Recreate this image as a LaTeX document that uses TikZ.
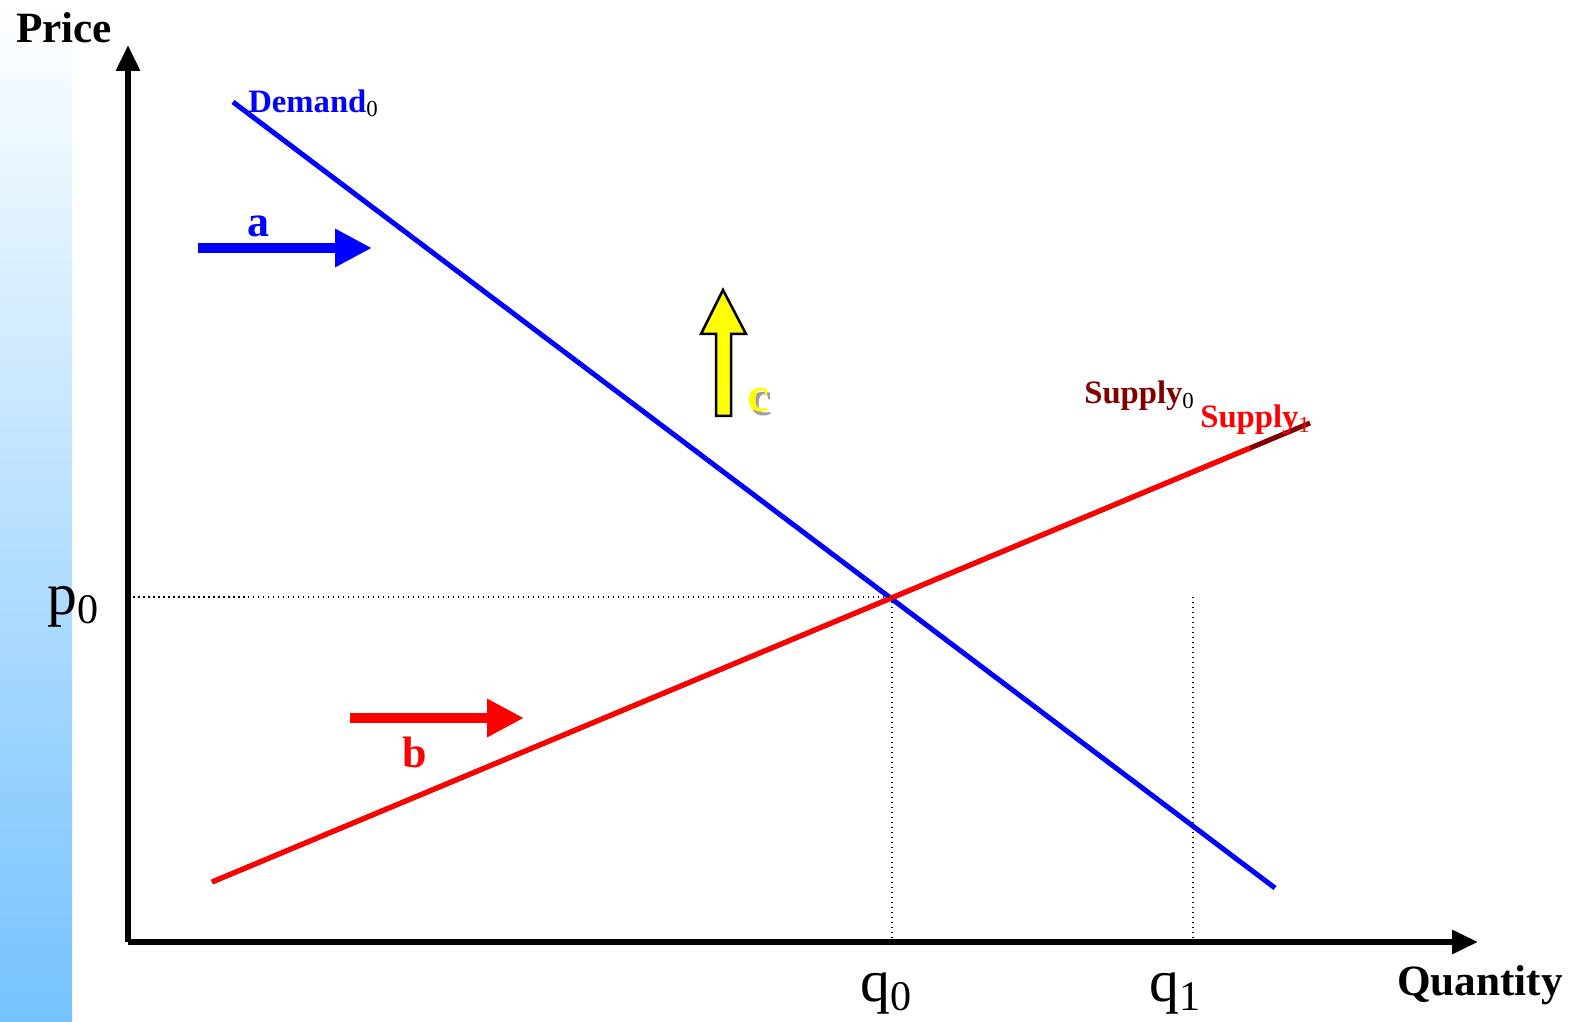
\documentclass[tikz,border=0pt]{standalone}
\usepackage{fontspec}
\setmainfont{Liberation Serif}
\usepackage{xcolor}
\usepackage{tikz}
\usetikzlibrary{arrows.meta,positioning}
\definecolor{barblue}{HTML}{74C2FF}
\definecolor{demandblue}{HTML}{0000FF}
\definecolor{supplyred}{HTML}{FF0000}
\definecolor{supplydark}{HTML}{800000}
\definecolor{shiftyellow}{HTML}{FFFF00}
\tikzset{
  axis/.style={line width=0.6mm,-{Triangle[length=2.6mm,width=2.3mm]}},
  curve/.style={line width=0.5mm},
  guide/.style={line width=0.15mm,dash pattern=on 0.15mm off 0.35mm},
  shiftarrow/.style={line width=1mm,-{Triangle[length=3.7mm,width=3.6mm]}},
  axlabel/.style={inner sep=0pt,font=\fontsize{12.3pt}{14pt}\selectfont\bfseries},
  value/.style={inner sep=0pt,font=\fontsize{17pt}{19pt}\selectfont},
  curvelabel/.style={inner sep=0pt,font=\fontsize{9.3pt}{11pt}\selectfont\bfseries},
  shiftlabel/.style={inner sep=0pt,font=\fontsize{12.5pt}{14pt}\selectfont\bfseries}
}
\newcommand{\lowsub}[1]{\raisebox{-0.9mm}{\fontsize{12pt}{13pt}\selectfont #1}}
\begin{document}
\begin{tikzpicture}[x=0.1mm,y=-0.1mm]
  \useasboundingbox (0,0) rectangle (1575,1022);
  % side bar
  \shade[top color=white,bottom color=barblue] (0,0) rectangle (72,1022);
  % axes
  \coordinate (origin) at (128,942);
  \coordinate (ytop) at (128,45);
  \coordinate (xend) at (1478,942);
  \draw[axis] (origin) -- (ytop);
  \draw[axis] (origin) -- (xend);
  \node[axlabel] (price) at (64,28) {Price};
  \node[axlabel] (quantity) at (1480,985) {Quantity};
  % curves
  \coordinate (d0) at (233,102);
  \coordinate (d1) at (1275,888);
  \coordinate (s0) at (212,882);
  \coordinate (s1) at (1310,423);
  \coordinate (s1red) at (1250,448);
  \coordinate (eq) at (892,597);
  \coordinate (q1top) at (1193,597);
  \draw[curve,draw=demandblue] (d0) -- (d1);
  \draw[curve,draw=supplydark] (s0) -- (s1);
  \draw[curve,draw=supplyred] (s0) -- (s1red);
  % guides
  \draw[guide] (origin |- eq) -- (eq);
  \draw[guide] (eq) -- (eq |- origin);
  \draw[guide] (q1top) -- (q1top |- origin);
  \node[value] (p0) at (73,607) {p\lowsub{0}};
  \node[value] (q0) at (886,993) {q\lowsub{0}};
  \node[value] (q1) at (1175,993) {q\lowsub{1}};
  \node[curvelabel,text=demandblue] (demand) at (314,103) {Demand\textsubscript{\mdseries\color{black}0}};
  \node[curvelabel,text=supplydark] (supply0) at (1140,396) {Supply\textsubscript{\mdseries\color{black}0}};
  \node[curvelabel,text=supplyred] (supply1) at (1256,420) {Supply\textsubscript{\mdseries 1}};
  % shifts
  \coordinate (a0) at (198,248);
  \coordinate (a1) at (372,248);
  \coordinate (b0) at (350,718);
  \coordinate (b1) at (524,718);
  \draw[shiftarrow,draw=demandblue,fill=demandblue] (a0) -- (a1);
  \draw[shiftarrow,draw=supplyred,fill=supplyred] (b0) -- (b1);
  \node[shiftlabel,text=demandblue] (a) at (258,226) {a};
  \node[shiftlabel,text=supplyred] (b) at (415,752) {b};
  \draw[line width=0.25mm,fill=shiftyellow] (716,416) -- (716,334) -- (701,334) -- (723,290)
    -- (746,334) -- (731,334) -- (731,416) -- cycle;
  \node[shiftlabel,font=\fontsize{14pt}{15pt}\selectfont\bfseries] (c) at (758,402) {\makebox[0pt][l]{\hspace{0.35mm}\raisebox{-0.35mm}{\color{gray!75}c}}\color{shiftyellow}c};
\end{tikzpicture}
\end{document}
